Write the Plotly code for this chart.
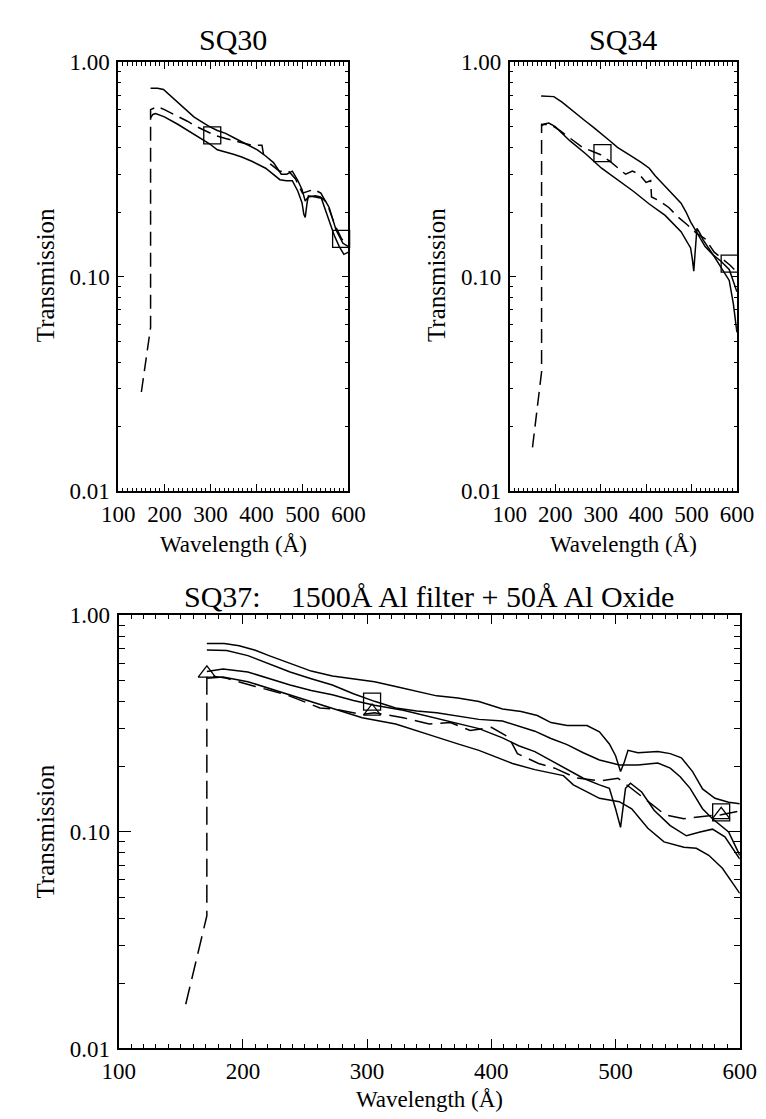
import plotly.graph_objects as go

# ---------------- data ----------------
# SQ30
sq30_a_wl = [170, 185, 198, 215, 229, 250, 264, 282, 298, 315, 333, 350, 368, 385, 402, 420, 437, 454, 466, 478, 490, 499, 506, 513, 528, 539, 550, 558, 573, 588, 600]
sq30_a_t = [0.755, 0.755, 0.745, 0.69, 0.645, 0.59, 0.555, 0.525, 0.50, 0.48, 0.465, 0.445, 0.425, 0.41, 0.39, 0.365, 0.34, 0.30, 0.30, 0.31, 0.28, 0.255, 0.225, 0.235, 0.238, 0.235, 0.225, 0.21, 0.165, 0.143, 0.138]
sq30_b_wl = [170, 175, 181, 200, 229, 264, 298, 315, 333, 350, 368, 390, 420, 440, 451, 465, 478, 490, 499, 503, 506, 510, 513, 528, 541, 555, 569, 580, 590, 600]
sq30_b_t = [0.55, 0.57, 0.575, 0.555, 0.513, 0.46, 0.416, 0.39, 0.381, 0.372, 0.361, 0.345, 0.32, 0.295, 0.283, 0.28, 0.28, 0.25, 0.221, 0.195, 0.189, 0.22, 0.238, 0.235, 0.232, 0.19, 0.156, 0.138, 0.127, 0.13]
sq30_c_wl = [150, 170, 170, 185, 200, 229, 250, 270, 290, 310, 333, 368, 389, 412, 416, None, 430, 450, 470, 485, 500, 512, 525, 540, 555, 570, 585, 600]
sq30_c_t = [0.029, 0.058, 0.60, 0.62, 0.60, 0.56, 0.53, 0.50, 0.475, 0.455, 0.44, 0.42, 0.41, 0.41, 0.365, None, 0.335, 0.31, 0.31, 0.285, 0.245, 0.25, 0.255, 0.245, 0.215, 0.175, 0.15, 0.14]
sq30_sq_wl = [304, 584]
sq30_sq_t = [0.455, 0.15]

# SQ34
sq34_a_wl = [169, 185, 197, 215, 232, 250, 267, 285, 302, 320, 337, 355, 372, 390, 407, 420, 442, 460, 477, 488, 498, 505, 512, 530, 548, 565, 583, 592, 600]
sq34_a_t = [0.695, 0.695, 0.69, 0.65, 0.61, 0.57, 0.53, 0.495, 0.46, 0.43, 0.40, 0.38, 0.36, 0.34, 0.32, 0.295, 0.265, 0.24, 0.22, 0.20, 0.18, 0.17, 0.16, 0.138, 0.126, 0.118, 0.108, 0.095, 0.085]
sq34_b_wl = [169, 176, 186, 200, 232, 267, 302, 337, 372, 407, 442, 477, 490, 498, 502, 505, 508, 512, 518, 526, 547, 568, 583, 592, 600]
sq34_b_t = [0.503, 0.515, 0.52, 0.50, 0.43, 0.374, 0.32, 0.283, 0.25, 0.218, 0.193, 0.162, 0.145, 0.136, 0.12, 0.106, 0.13, 0.168, 0.16, 0.148, 0.127, 0.107, 0.096, 0.075, 0.055]
sq34_c_wl = [150, 170, 170, 190, 210, 240, 260, 280, 300, 320, 340, 355, 370, 385, 400, 410, 412, 430, 450, 470, 490, 510, 530, 550, 570, 585, 600]
sq34_c_t = [0.016, 0.036, 0.513, 0.51, 0.48, 0.43, 0.40, 0.385, 0.37, 0.345, 0.32, 0.30, 0.31, 0.30, 0.275, 0.28, 0.235, 0.225, 0.21, 0.19, 0.175, 0.16, 0.15, 0.13, 0.12, 0.113, 0.105]
sq34_sq_wl = [304, 584]
sq34_sq_t = [0.376, 0.115]

# SQ37
sq37_a_wl = [171, 185, 197, 210, 221, 238, 255, 272, 289, 306, 323, 340, 356, 373, 390, 409, 424, 437, 448, 461, 477, 487, 495, 500, 504, 507, 510, 518, 534, 544, 553, 562, 570, 580, 591, 600]
sq37_a_t = [0.742, 0.742, 0.724, 0.69, 0.652, 0.60, 0.553, 0.525, 0.51, 0.494, 0.47, 0.445, 0.425, 0.415, 0.40, 0.37, 0.36, 0.345, 0.32, 0.31, 0.31, 0.29, 0.255, 0.225, 0.19, 0.21, 0.238, 0.232, 0.235, 0.23, 0.22, 0.19, 0.158, 0.143, 0.137, 0.135]
sq37_b_wl = [171, 187, 204, 221, 238, 255, 272, 289, 306, 323, 340, 356, 373, 390, 409, 424, 435, 448, 461, 474, 487, 503, 518, 534, 544, 552, 560, 570, 578, 591, 600]
sq37_b_t = [0.692, 0.688, 0.652, 0.60, 0.548, 0.51, 0.477, 0.435, 0.401, 0.374, 0.362, 0.355, 0.343, 0.331, 0.325, 0.305, 0.292, 0.27, 0.253, 0.232, 0.215, 0.204, 0.204, 0.208, 0.197, 0.18, 0.159, 0.128, 0.115, 0.10, 0.078]
sq37_c_wl = [171, 184, 204, 221, 238, 255, 272, 289, 306, 329, 356, 390, 409, 422, 435, 461, 474, 487, 495, 500, 504, 508, 512, 521, 531, 544, 557, 568, 578, 588, 600]
sq37_c_t = [0.55, 0.565, 0.548, 0.51, 0.477, 0.45, 0.43, 0.405, 0.385, 0.365, 0.335, 0.30, 0.272, 0.25, 0.235, 0.194, 0.177, 0.165, 0.159, 0.128, 0.105, 0.159, 0.168, 0.153, 0.126, 0.107, 0.096, 0.10, 0.103, 0.095, 0.075]
sq37_d_wl = [171, 184, 204, 221, 238, 255, 272, 296, 323, 340, 356, 373, 390, 417, 435, 458, 466, 477, 487, 503, 513, 526, 539, 555, 565, 575, 586, 600]
sq37_d_t = [0.512, 0.52, 0.494, 0.46, 0.43, 0.40, 0.374, 0.337, 0.315, 0.292, 0.274, 0.255, 0.238, 0.207, 0.194, 0.182, 0.165, 0.153, 0.143, 0.138, 0.128, 0.104, 0.09, 0.085, 0.084, 0.078, 0.068, 0.052]
sq37_e_wl = [154, 171, 171, 187, 210, 235, 262, 275, 296, 306, 329, 350, 367, 383, 400, 414, 421, 438, 451, 468, 488, 502, 512, 526, 540, 555, 570, 585, 600]
sq37_e_t = [0.016, 0.041, 0.53, 0.512, 0.47, 0.43, 0.374, 0.368, 0.349, 0.355, 0.337, 0.315, 0.32, 0.294, 0.304, 0.274, 0.23, 0.207, 0.197, 0.178, 0.172, 0.177, 0.16, 0.138, 0.12, 0.115, 0.118, 0.12, 0.125]
sq37_sq_wl = [304, 585]
sq37_sq_t = [0.40, 0.123]
sq37_tri_wl = [171, 304, 585]
sq37_tri_t = [0.54, 0.36, 0.12]

x_tick_vals = [100, 200, 300, 400, 500, 600]
y_tick_vals = [0.01, 0.1, 1.0]
y_tick_text = ["0.01", "0.10", "1.00"]

titles = ["SQ30", "SQ34", "SQ37:\u00a0\u00a0\u00a0 1500\u00c5 Al filter + 50\u00c5 Al Oxide"]
x_title = "Wavelength (\u00c5)"
y_title = "Transmission"

# ---------------- figure ----------------
W, H = 766, 1119
FONT = "Liberation Serif"
fig = go.Figure()


def line(x, y, ax, dash=None):
    fig.add_trace(go.Scatter(
        x=x, y=y, mode="lines", xaxis="x" + ax, yaxis="y" + ax,
        line=dict(color="black", width=1.5, dash=dash or "solid"),
        showlegend=False, hoverinfo="skip"))


def marks(x, y, ax, symbol, size):
    fig.add_trace(go.Scatter(
        x=x, y=y, mode="markers", xaxis="x" + ax, yaxis="y" + ax,
        marker=dict(symbol=symbol, size=size, color="black",
                    line=dict(color="black", width=1.3)),
        cliponaxis=False, showlegend=False, hoverinfo="skip"))


DASH = "14px,7px"
line(sq30_a_wl, sq30_a_t, "")
line(sq30_b_wl, sq30_b_t, "")
line(sq30_c_wl, sq30_c_t, "", DASH)
marks(sq30_sq_wl, sq30_sq_t, "", "square-open", 17)

line(sq34_a_wl, sq34_a_t, "2")
line(sq34_b_wl, sq34_b_t, "2")
line(sq34_c_wl, sq34_c_t, "2", DASH)
marks(sq34_sq_wl, sq34_sq_t, "2", "square-open", 17)

line(sq37_a_wl, sq37_a_t, "3")
line(sq37_b_wl, sq37_b_t, "3")
line(sq37_c_wl, sq37_c_t, "3")
line(sq37_d_wl, sq37_d_t, "3")
line(sq37_e_wl, sq37_e_t, "3", "18px,8px")
marks(sq37_sq_wl, sq37_sq_t, "3", "square-open", 17)
marks(sq37_tri_wl, sq37_tri_t, "3", "triangle-up-open", 15)


def px_x(p):
    return p / W


def px_y(p):
    return 1 - p / H


def xaxis(dom, anchor, maj, mnr):
    return dict(domain=dom, anchor=anchor, range=[100, 600],
                tickmode="array", tickvals=x_tick_vals,
                ticks="inside", ticklen=maj, tickwidth=1, tickcolor="black",
                minor=dict(dtick=10, tick0=0, ticks="inside", ticklen=mnr,
                           tickwidth=1, tickcolor="black", showgrid=False),
                showline=True, linecolor="black", linewidth=2, mirror="allticks",
                showgrid=False, zeroline=False,
                tickfont=dict(family=FONT, size=23, color="black"),
                ticklabelstandoff=1)


def yaxis(dom, anchor, maj, mnr):
    return dict(domain=dom, anchor=anchor, type="log", range=[-2, 0],
                tickmode="array", tickvals=y_tick_vals, ticktext=y_tick_text,
                ticks="inside", ticklen=maj, tickwidth=1, tickcolor="black",
                minor=dict(dtick="D1", ticks="inside", ticklen=mnr,
                           tickwidth=1, tickcolor="black", showgrid=False),
                showline=True, linecolor="black", linewidth=2, mirror="allticks",
                showgrid=False, zeroline=False,
                tickfont=dict(family=FONT, size=23, color="black"),
                ticklabelstandoff=2)


top_y = [px_y(482), px_y(43)]
bot_y = [px_y(1052), px_y(609)]
tl_x = [px_x(97.7), px_x(338.5)]
tr_x = [px_x(507.3), px_x(745)]
b_x = [px_x(98), px_x(748)]

fig.update_layout(
    width=W, height=H, margin=dict(l=0, r=0, t=0, b=0),
    paper_bgcolor="white", plot_bgcolor="white",
    font=dict(family=FONT, color="black"),
    xaxis=xaxis(tl_x, "y", 7, 3.5), yaxis=yaxis(top_y, "x", 6, 3),
    xaxis2=xaxis(tr_x, "y2", 7, 3.5), yaxis2=yaxis(top_y, "x2", 6, 3),
    xaxis3=xaxis(b_x, "y3", 9, 4), yaxis3=yaxis(bot_y, "x3", 12, 6),
)

ann = []
def text(t, x, y, size, angle=0):
    ann.append(dict(text=t, x=px_x(x), y=px_y(y), xref="paper", yref="paper",
                    xanchor="center", yanchor="middle", showarrow=False,
                    textangle=angle, font=dict(family=FONT, size=size, color="black")))

text(titles[0], 218, 20, 30)
text(titles[1], 626, 20, 30)
text(titles[2], 423, 590, 30)
text(x_title, 218, 536, 23)
text(x_title, 626, 536, 23)
text(x_title, 423, 1104, 23)
text(y_title, 21, 261, 25, -90)
text(y_title, 430, 261, 25, -90)
text(y_title, 21, 830, 25, -90)
fig.update_layout(annotations=ann)

fig.write_html("out.html")
